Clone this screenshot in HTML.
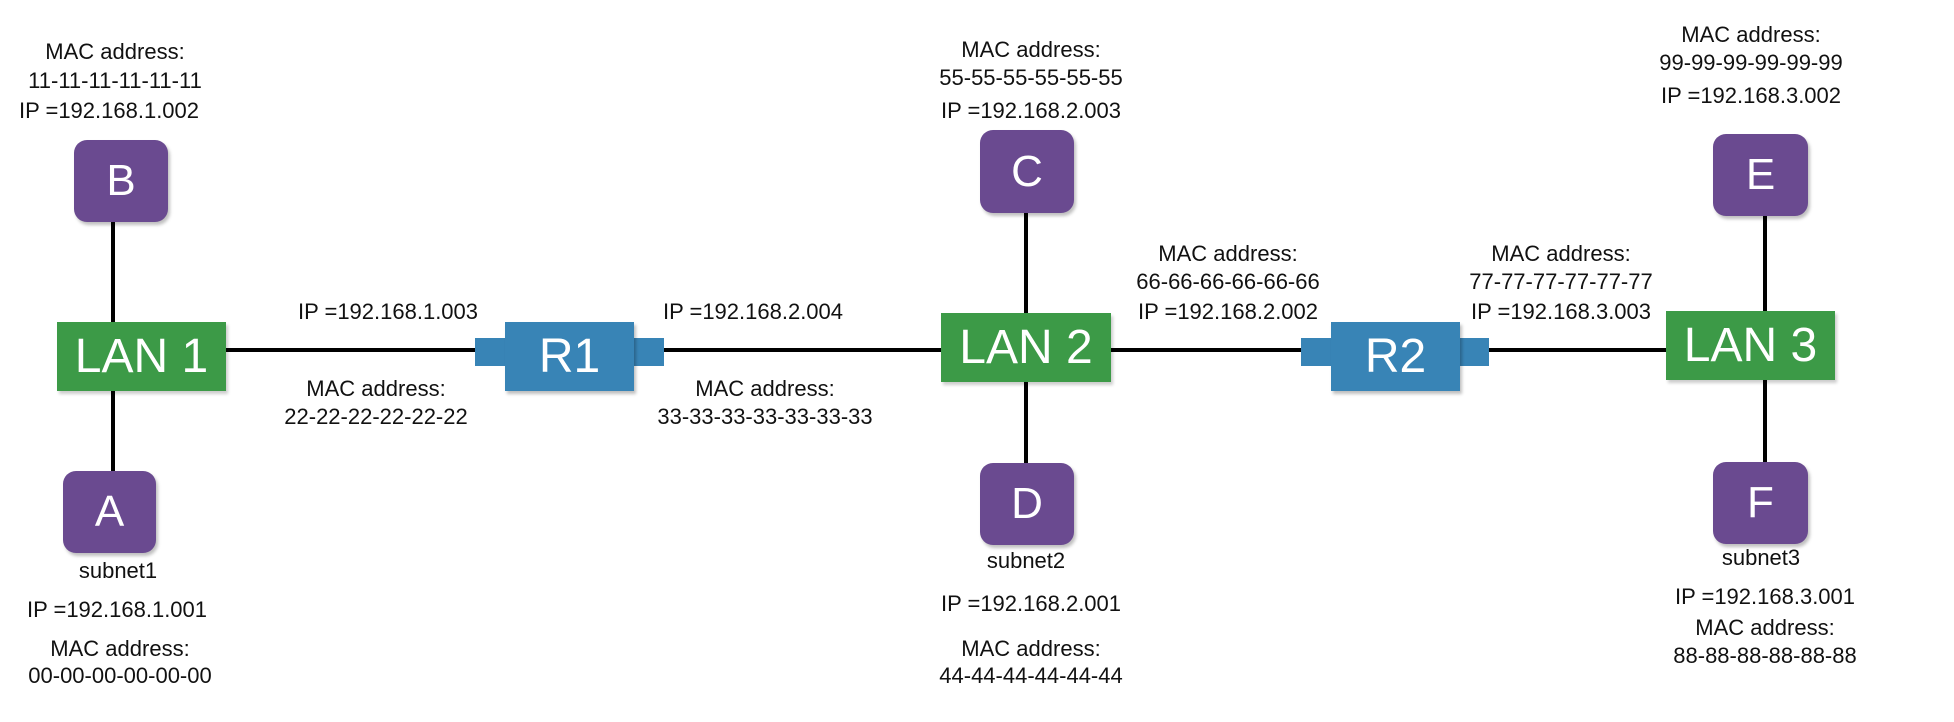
<!DOCTYPE html>
<html><head><meta charset="utf-8"><style>
body{margin:0;width:1954px;height:722px;background:#fff;position:relative;overflow:hidden;font-family:"Liberation Sans",sans-serif;}
.t{position:absolute;transform:translate(-50%,-50%);white-space:nowrap;font-size:22px;color:#111;}
.n{position:absolute;background:#6a4a90;border-radius:13px;color:#fff;font-size:44px;display:flex;align-items:center;justify-content:center;box-shadow:2px 3px 3px rgba(0,0,0,.25);}
.lan{position:absolute;background:#3c9a47;color:#fff;font-size:48px;display:flex;align-items:center;justify-content:center;box-shadow:2px 3px 3px rgba(0,0,0,.2);}
.r{position:absolute;background:#3884b6;color:#fff;font-size:48px;display:flex;align-items:center;justify-content:center;box-shadow:2px 3px 3px rgba(0,0,0,.25);}
.p{position:absolute;background:#3884b6;}
</style></head><body>
<svg width="1954" height="722" style="position:absolute;left:0;top:0">
<g stroke="#000" stroke-width="4">
<line x1="113" y1="222" x2="113" y2="322"/><line x1="113" y1="391" x2="113" y2="471"/>
<line x1="200" y1="350" x2="476" y2="350"/><line x1="663" y1="350" x2="942" y2="350"/>
<line x1="1026" y1="213" x2="1026" y2="313"/><line x1="1026" y1="382" x2="1026" y2="463"/>
<line x1="1110" y1="350" x2="1302" y2="350"/><line x1="1488" y1="350" x2="1667" y2="350"/>
<line x1="1765" y1="216" x2="1765" y2="311"/><line x1="1765" y1="380" x2="1765" y2="462"/>
</g></svg>
<div class="n" style="left:74px;top:140px;width:94px;height:82px">B</div>
<div class="n" style="left:63px;top:471px;width:93px;height:82px">A</div>
<div class="n" style="left:980px;top:130px;width:94px;height:83px">C</div>
<div class="n" style="left:980px;top:463px;width:94px;height:82px">D</div>
<div class="n" style="left:1713px;top:134px;width:95px;height:82px">E</div>
<div class="n" style="left:1713px;top:462px;width:95px;height:82px">F</div>
<div class="lan" style="left:57px;top:322px;width:169px;height:69px">LAN 1</div>
<div class="lan" style="left:941px;top:313px;width:170px;height:69px">LAN 2</div>
<div class="lan" style="left:1666px;top:311px;width:169px;height:69px">LAN 3</div>
<div class="p" style="left:475px;top:338px;width:32px;height:28px"></div>
<div class="p" style="left:632px;top:338px;width:32px;height:28px"></div>
<div class="r" style="left:505px;top:322px;width:129px;height:69px">R1</div>
<div class="p" style="left:1301px;top:338px;width:32px;height:28px"></div>
<div class="p" style="left:1458px;top:338px;width:31px;height:28px"></div>
<div class="r" style="left:1331px;top:322px;width:129px;height:69px">R2</div>

<div class="t" style="left:115px;top:52px">MAC address:</div>
<div class="t" style="left:115px;top:81px">11-11-11-11-11-11</div>
<div class="t" style="left:109px;top:111px">IP =192.168.1.002</div>
<div class="t" style="left:118px;top:571px">subnet1</div>
<div class="t" style="left:117px;top:610px">IP =192.168.1.001</div>
<div class="t" style="left:120px;top:649px">MAC address:</div>
<div class="t" style="left:120px;top:676px">00-00-00-00-00-00</div>
<div class="t" style="left:388px;top:312px">IP =192.168.1.003</div>
<div class="t" style="left:376px;top:389px">MAC address:</div>
<div class="t" style="left:376px;top:417px">22-22-22-22-22-22</div>
<div class="t" style="left:753px;top:312px">IP =192.168.2.004</div>
<div class="t" style="left:765px;top:389px">MAC address:</div>
<div class="t" style="left:765px;top:417px">33-33-33-33-33-33-33</div>
<div class="t" style="left:1031px;top:50px">MAC address:</div>
<div class="t" style="left:1031px;top:78px">55-55-55-55-55-55</div>
<div class="t" style="left:1031px;top:111px">IP =192.168.2.003</div>
<div class="t" style="left:1026px;top:561px">subnet2</div>
<div class="t" style="left:1031px;top:604px">IP =192.168.2.001</div>
<div class="t" style="left:1031px;top:649px">MAC address:</div>
<div class="t" style="left:1031px;top:676px">44-44-44-44-44-44</div>
<div class="t" style="left:1228px;top:254px">MAC address:</div>
<div class="t" style="left:1228px;top:282px">66-66-66-66-66-66</div>
<div class="t" style="left:1228px;top:312px">IP =192.168.2.002</div>
<div class="t" style="left:1561px;top:254px">MAC address:</div>
<div class="t" style="left:1561px;top:282px">77-77-77-77-77-77</div>
<div class="t" style="left:1561px;top:312px">IP =192.168.3.003</div>
<div class="t" style="left:1751px;top:35px">MAC address:</div>
<div class="t" style="left:1751px;top:63px">99-99-99-99-99-99</div>
<div class="t" style="left:1751px;top:96px">IP =192.168.3.002</div>
<div class="t" style="left:1761px;top:558px">subnet3</div>
<div class="t" style="left:1765px;top:597px">IP =192.168.3.001</div>
<div class="t" style="left:1765px;top:628px">MAC address:</div>
<div class="t" style="left:1765px;top:656px">88-88-88-88-88-88</div>
</body></html>
